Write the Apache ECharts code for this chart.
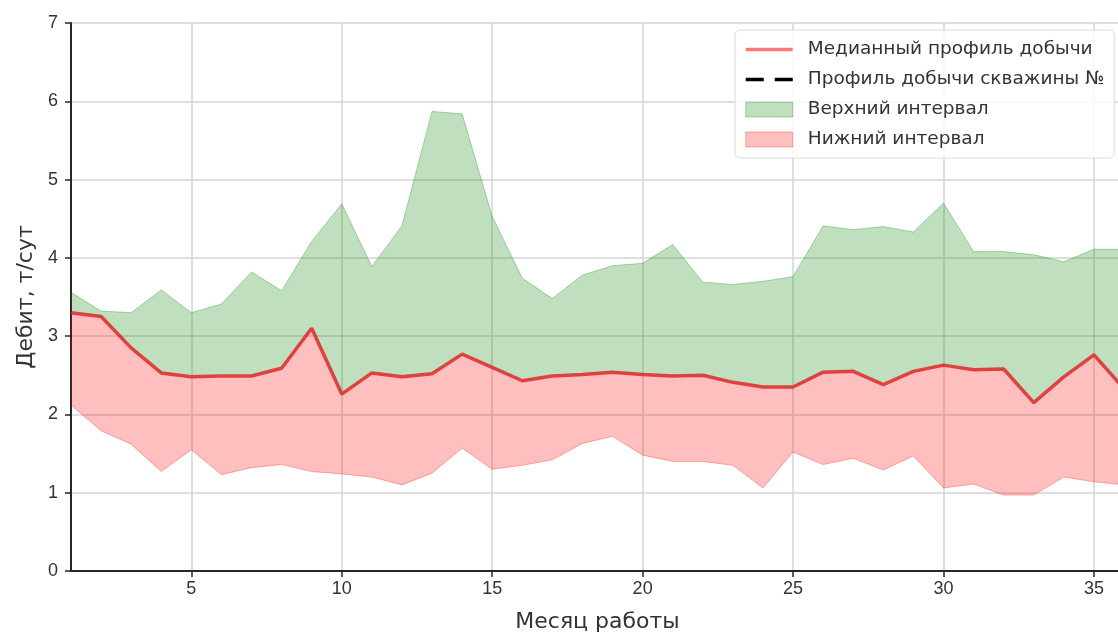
<!DOCTYPE html>
<html>
<head>
<meta charset="utf-8">
<script src="https://cdn.jsdelivr.net/npm/echarts@6/dist/echarts.min.js"></script>
<style>
html,body{margin:0;padding:0;background:#fff;}
#chart{width:1118px;height:635px;}
</style>
</head>
<body>
<div id="chart"></div>
<script>
// месяцы работы
var months = ['1','2','3','4','5','6','7','8','9','10','11','12','13','14','15','16','17','18',
              '19','20','21','22','23','24','25','26','27','28','29','30','31','32','33','34','35','36'];

// медианный профиль
var medianVals = [3.30, 3.25, 2.85, 2.53, 2.48, 2.49, 2.49, 2.59, 3.10, 2.26,
                  2.53, 2.48, 2.52, 2.77, 2.60, 2.43, 2.49, 2.51, 2.54, 2.51,
                  2.49, 2.50, 2.41, 2.35, 2.35, 2.54, 2.55, 2.38, 2.55, 2.63,
                  2.57, 2.58, 2.15, 2.48, 2.76, 2.33];
// верхняя граница
var upperVals = [3.56, 3.32, 3.30, 3.59, 3.30, 3.41, 3.82, 3.58, 4.21, 4.69,
                 3.89, 4.41, 5.87, 5.84, 4.53, 3.74, 3.48, 3.78, 3.90, 3.93,
                 4.17, 3.69, 3.66, 3.70, 3.76, 4.41, 4.36, 4.40, 4.33, 4.70,
                 4.08, 4.08, 4.04, 3.95, 4.11, 4.11];
// нижняя граница
var lowerVals = [2.12, 1.79, 1.62, 1.27, 1.55, 1.23, 1.32, 1.36, 1.27, 1.24,
                 1.20, 1.10, 1.25, 1.57, 1.30, 1.35, 1.42, 1.63, 1.72, 1.48,
                 1.40, 1.40, 1.35, 1.06, 1.52, 1.36, 1.44, 1.29, 1.47, 1.06,
                 1.11, 0.97, 0.97, 1.20, 1.14, 1.10];
// скважина (нет данных)
var wellVals = [];

// подписи оси X - каждые 5 месяцев
function isTick(index, value) {
    return (+value) % 5 === 0;
}

// полосы для стека
var lowerBand = [], upperBand = [];
for (var i = 0; i < months.length; i++) {
    lowerBand.push(+(medianVals[i] - lowerVals[i]).toFixed(3));
    upperBand.push(+(upperVals[i] - medianVals[i]).toFixed(3));
}

var myChart = echarts.init(document.getElementById('chart'));
var textColor = '#333333';
var titleFont = 'DejaVu Sans, sans-serif';
var option = {
    animation: false,
    textStyle: {fontFamily: 'Liberation Sans, Arial, sans-serif'},
    grid: {left: 71, right: -6, top: 23, bottom: 64, outerBoundsMode: 'none', containLabel: false},
    legend: {
        orient: 'vertical',
        left: 735,
        top: 30,
        padding: [10, 10, 9, 9],
        itemWidth: 47,
        itemHeight: 15,
        itemGap: 11,
        backgroundColor: 'rgba(255,255,255,0.85)',
        borderColor: '#dcdcdc',
        borderWidth: 1,
        borderRadius: 5,
        textStyle: {fontSize: 18.5, color: textColor, fontFamily: titleFont, padding: [0, 0, 0, 10]},
        data: [
            {name: 'Медианный профиль добычи', itemStyle: {opacity: 0}, lineStyle: {color: '#ff7b7b', width: 3.5}},
            {name: 'Профиль добычи скважины №', itemStyle: {opacity: 0}, lineStyle: {color: '#000', width: 3.5, type: [18, 11]}},
            {name: 'Верхний интервал', icon: 'rect', itemStyle: {color: 'rgba(0,128,0,0.25)', borderColor: 'rgba(0,128,0,0.3)', borderWidth: 1}},
            {name: 'Нижний интервал', icon: 'rect', itemStyle: {color: 'rgba(255,0,0,0.25)', borderColor: 'rgba(255,0,0,0.3)', borderWidth: 1}}
        ]
    },
    xAxis: {
        type: 'category',
        boundaryGap: false,
        data: months,
        name: 'Месяц работы',
        nameLocation: 'middle',
        nameGap: 40,
        nameTextStyle: {fontSize: 22, color: textColor, fontFamily: titleFont},
        axisLine: {lineStyle: {color: '#262626', width: 2}},
        axisTick: {show: true, length: 6, interval: isTick, lineStyle: {color: '#262626', width: 1.5}},
        axisLabel: {fontSize: 18, color: textColor, margin: 9, interval: isTick},
        splitLine: {show: true, interval: isTick, lineStyle: {color: '#d4d4d4', width: 1.5}}
    },
    yAxis: {
        type: 'value',
        min: 0,
        max: 7,
        interval: 1,
        name: 'Дебит, т/сут',
        nameLocation: 'middle',
        nameGap: 31,
        nameTextStyle: {fontSize: 22, color: textColor, fontFamily: titleFont},
        axisLine: {show: true, lineStyle: {color: '#262626', width: 2}},
        axisTick: {show: true, length: 6, lineStyle: {color: '#262626', width: 1.5}},
        axisLabel: {fontSize: 18, color: textColor, margin: 13},
        splitLine: {show: true, lineStyle: {color: '#d4d4d4', width: 1.5}}
    },
    series: [
        {
            name: 'lower',
            type: 'line',
            stack: 'band',
            symbol: 'none',
            data: lowerVals,
            lineStyle: {color: 'rgba(255,0,0,0.3)', width: 1},
            z: 2
        },
        {
            name: 'Нижний интервал',
            type: 'line',
            stack: 'band',
            symbol: 'none',
            data: lowerBand,
            color: 'rgba(255,0,0,0.25)',
            lineStyle: {width: 0},
            areaStyle: {color: 'rgba(255,0,0,0.25)', opacity: 1},
            z: 2
        },
        {
            name: 'Верхний интервал',
            type: 'line',
            stack: 'band',
            symbol: 'none',
            data: upperBand,
            color: 'rgba(0,128,0,0.25)',
            lineStyle: {color: 'rgba(0,128,0,0.3)', width: 1},
            areaStyle: {color: 'rgba(0,128,0,0.25)', opacity: 1},
            z: 2
        },
        {
            name: 'Медианный профиль добычи',
            type: 'line',
            symbol: 'none',
            data: medianVals,
            color: '#ff7b7b',
            lineStyle: {color: 'rgba(222,30,30,0.8)', width: 3.5},
            z: 3
        },
        {
            name: 'Профиль добычи скважины №',
            type: 'line',
            symbol: 'none',
            data: wellVals,
            color: '#000',
            lineStyle: {color: '#000', width: 3, type: 'dashed'},
            z: 4
        }
    ]
};
myChart.setOption(option, true);
</script>
</body>
</html>
